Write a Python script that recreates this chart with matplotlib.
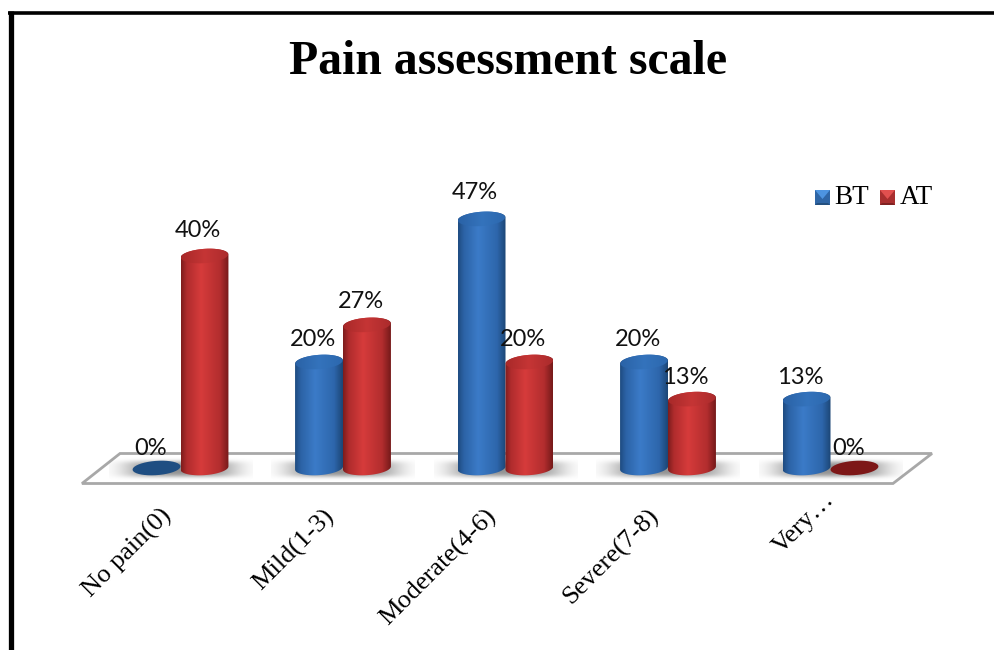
### Pain assessment scale - before / after treatment, cylinder style bars
import numpy as np
import matplotlib
matplotlib.use('Agg')
import matplotlib.pyplot as plt
from matplotlib.patches import PathPatch, Polygon
from matplotlib.path import Path
from matplotlib.colors import LinearSegmentedColormap
from matplotlib.transforms import ScaledTranslation

# data
categories = ['No pain(0)', 'Mild(1-3)', 'Moderate(4-6)', 'Severe(7-8)', 'Very…']
bt_values = [0, 20, 47, 20, 13]
at_values = [40, 27, 20, 13, 0]
series_names = ['BT', 'AT']

W, H = 994, 650
BAR_W = 0.295   # in category units
ELL_H = 1.35    # half height of the cylinder ellipse, in percent units
TILT = 0.30     # the ellipses lean up to the right

blue_map = LinearSegmentedColormap.from_list(
    'b', [(0, '#1f4c82'), (0.12, '#2c63a6'), (0.42, '#3b7bc8'), (0.82, '#2d66ab'), (1, '#1c4676')])
red_map = LinearSegmentedColormap.from_list(
    'r', [(0, '#7e1d1d'), (0.12, '#b02c2d'), (0.42, '#d63b3b'), (0.82, '#b22d2e'), (1, '#761a1a')])
blue_cap = LinearSegmentedColormap.from_list('bc', ['#2a62a6', '#3473bc', '#2c68ae'])
red_cap = LinearSegmentedColormap.from_list('rc', ['#a82929', '#c53535', '#ab2b2c'])

fig = plt.figure(figsize=(W / 100, H / 100), dpi=100, facecolor='white')

# background layer in pixels: frame, floor, shadows, legend
bg = fig.add_axes([0, 0, 1, 1])
bg.set_xlim(0, W)
bg.set_ylim(H, 0)
bg.axis('off')

bg.plot([10.5, 10.5], [H, 11], color='black', lw=3.8, solid_capstyle='butt')
bg.plot([8, W], [12.5, 12.5], color='black', lw=2.6, solid_capstyle='butt')

floor = Polygon([(82, 483.5), (893, 483.5), (932, 453.5), (120, 453.5)], closed=True,
                facecolor='white', edgecolor='#a8a8a8', lw=2)
bg.add_patch(floor)

# soft shadow under each pair of cylinders
yy, xx = np.mgrid[-1:1:40j, -1:1:160j]
blob = np.exp(-(np.abs(xx) / 0.78) ** 4) * np.exp(-(np.abs(yy) / 0.68) ** 4)
shadow = np.zeros(blob.shape + (4,))
shadow[..., :3] = 0.50
shadow[..., 3] = blob * 0.85
for i in range(len(categories)):
    cx = 180.5 + 162.5 * i
    bg.imshow(shadow, extent=(cx - 72, cx + 72, 481, 457), aspect='auto', zorder=2)
bg.set_xlim(0, W)
bg.set_ylim(H, 0)

bg.text(508, 62, 'Pain assessment scale', family='Liberation Serif', weight='bold',
        fontsize=34.4, ha='center', va='center', color='black')


def swatch(x, y, base, light, dark):
    # small bevelled legend key
    s = 15
    bg.add_patch(Polygon([(x, y), (x + s, y), (x + s, y + s), (x, y + s)], facecolor=base, edgecolor='none', zorder=3))
    bg.add_patch(Polygon([(x, y), (x + s, y), (x + s / 2, y + s * 0.6)], facecolor=light, edgecolor='none', zorder=4))
    bg.add_patch(Polygon([(x, y + s), (x + s, y + s), (x + s - 2, y + s - 2), (x + 2, y + s - 2)],
                         facecolor=dark, edgecolor='none', zorder=4))


swatch(815, 190, '#2f66a6', '#4d94e0', '#24507f')
swatch(880, 190, '#a92f2f', '#e2504f', '#7f2222')
bg.text(834, 197, series_names[0], family='Liberation Serif', fontsize=19.5, va='center', ha='left')
bg.text(900, 197, series_names[1], family='Liberation Serif', fontsize=19.5, va='center', ha='left')

# data axes: x in category units, y in percent
ax_left, ax_right, ax_top, ax_bottom = 80, 933, 150, 484
ax = fig.add_axes([ax_left / W, 1 - ax_bottom / H, (ax_right - ax_left) / W, (ax_bottom - ax_top) / H])
ax.patch.set_alpha(0)
for s in ax.spines.values():
    s.set_visible(False)
ax.set_yticks([])


def ellipse_points(cx, y, half, t0, t1, n=40):
    t = np.linspace(t0, t1, n)
    return np.column_stack([cx + half * np.cos(t), y + ELL_H * np.sin(t) + TILT * np.cos(t)])


def cylinder(cx, value, cmap, cap_map, flat_color, z):
    half = BAR_W / 2
    if value == 0:
        pts = ellipse_points(cx, 0, half, 0, 2 * np.pi)
        ax.add_patch(Polygon(pts, closed=True, facecolor=flat_color, edgecolor='none', zorder=z))
        return
    lower = ellipse_points(cx, 0, half, np.pi, 2 * np.pi)
    upper = ellipse_points(cx, value, half, 0, np.pi)
    body = PathPatch(Path(np.vstack([lower, upper, lower[:1]])), transform=ax.transData,
                     facecolor='none', edgecolor='none')
    ax.add_patch(body)
    grad = np.linspace(0, 1, 120)[None, :]
    im = ax.imshow(grad, cmap=cmap, extent=(cx - half, cx + half, -4, value + 4), aspect='auto', zorder=z)
    im.set_clip_path(body)
    cap = PathPatch(Path(ellipse_points(cx, value, half * 0.985, 0, 2 * np.pi)), transform=ax.transData,
                    facecolor='none', edgecolor='none')
    ax.add_patch(cap)
    im2 = ax.imshow(grad, cmap=cap_map, extent=(cx - half, cx + half, value - 4, value + 4), aspect='auto', zorder=z + 0.1)
    im2.set_clip_path(cap)


for i in range(len(categories)):
    cylinder(i - BAR_W / 2, bt_values[i], blue_map, blue_cap, '#1f4e82', 3 + i)
    cylinder(i + BAR_W / 2, at_values[i], red_map, red_cap, '#7d1717', 3.5 + i)

ax.set_ylim(-16 / 5.3, (468 - ax_top) / 5.3)
ax.set_xlim((ax_left - 180.5) / 162.5, (ax_right - 180.5) / 162.5)

# value labels
for i in range(len(categories)):
    for off, v in zip((-BAR_W / 2, BAR_W / 2), (bt_values[i], at_values[i])):
        ax.annotate(f'{v}%', (i + off, v), xytext=(-4.5, 14 + v * 0.11), textcoords='offset points',
                    family='Lato', fontsize=17, ha='center', va='center', color='#111111', zorder=20)

ax.set_xticks(range(len(categories)))
ax.set_xticklabels(categories, family='Liberation Serif', fontsize=19, rotation=45,
                   ha='right', va='top', rotation_mode='anchor')
ax.tick_params(axis='x', length=0, pad=15)
shift = ScaledTranslation(-15 / 72, 0, fig.dpi_scale_trans)
last_shift = ScaledTranslation(-5 / 72, 12 / 72, fig.dpi_scale_trans)  # shortened label sits closer to the floor
labels = ax.get_xticklabels()
for lab in labels[:-1]:
    lab.set_transform(lab.get_transform() + shift)
labels[-1].set_transform(labels[-1].get_transform() + last_shift)

plt.savefig('out.png', dpi=100)
